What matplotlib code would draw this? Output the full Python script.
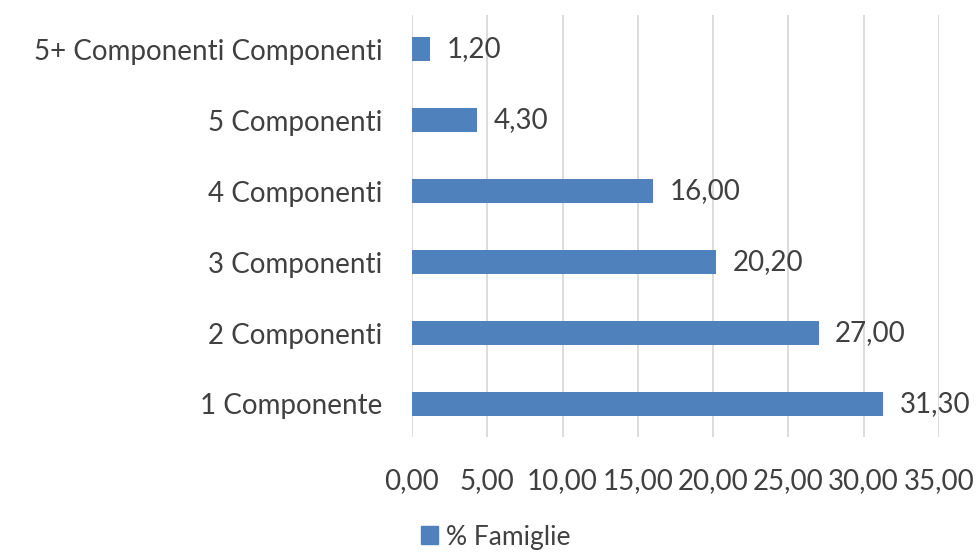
import matplotlib
matplotlib.use("Agg")
import matplotlib.pyplot as plt
from matplotlib.patches import Patch

categories = ["1 Componente", "2 Componenti", "3 Componenti", "4 Componenti",
              "5 Componenti", "5+ Componenti Componenti"]
values = [31.30, 27.00, 20.20, 16.00, 4.30, 1.20]
xticks = [0, 5, 10, 15, 20, 25, 30, 35]
series_name = "% Famiglie"

plt.rcParams['font.family'] = ['Lato', 'DejaVu Sans']
txt = '#404040'
fs = 20

fig = plt.figure(figsize=(9.79, 5.53), dpi=100)
ax = fig.add_axes([412/979, (553-437)/553, (939-412)/979, (437-15)/553])

y = list(range(len(categories)))
ax.barh(y, values, height=0.34, color='#4F81BD', zorder=3)
for yi, v in zip(y, values):
    ax.annotate(f"{v:.2f}".replace('.', ','), (v, yi), xytext=(12, 0),
                textcoords='offset points', va='center', ha='left',
                fontsize=fs, color=txt)

ax.set_xlim(0, 35)
ax.set_ylim(-0.465, 5.48)
ax.set_xticks(xticks)
ax.set_xticklabels([f"{t:.2f}".replace('.', ',') for t in xticks], fontsize=fs, color=txt)
ax.set_yticks(y)
ax.set_yticklabels(categories, fontsize=fs, color=txt)
ax.tick_params(axis='both', length=0)
ax.tick_params(axis='y', pad=21.5)
ax.tick_params(axis='x', pad=22)
ax.grid(axis='x', color='#D9D9D9', linewidth=1.3, zorder=0)
for s in ax.spines.values():
    s.set_visible(False)

fig.legend(handles=[Patch(color='#4F81BD', label=series_name)],
           loc='center', bbox_to_anchor=(496/979, 1-537/553), frameon=False,
           fontsize=19, handlelength=0.65, handleheight=0.65, handletextpad=0.3,
           labelcolor=txt, borderpad=0)

fig.savefig("out.png", dpi=100, facecolor='white')
